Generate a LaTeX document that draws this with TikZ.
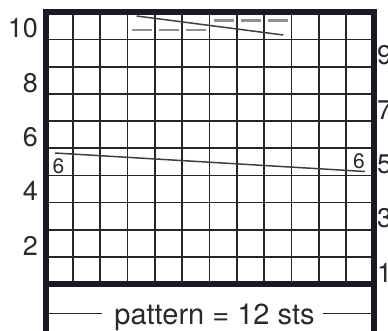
\documentclass[tikz,border=0pt]{standalone}
\usepackage{fontspec}
\setmainfont{TeX Gyre Heros}
\definecolor{framec}{HTML}{1B1A24}
\definecolor{gridc}{HTML}{262626}
\definecolor{dashc}{HTML}{8C9192}
\definecolor{textc}{HTML}{2A2A2A}
\tikzset{
  gridline/.style={draw=gridc, line width=1.6pt},
  frameline/.style={draw=framec, line width=6pt, line join=miter},
  slant/.style={draw=textc!90, line width=1.5pt},
  dashmark/.style={draw=dashc, line width=2.6pt},
  rowlbl/.style={inner sep=0pt, text=textc, font=\fontsize{27}{30}\selectfont},
  smalllbl/.style={inner sep=0pt, text=textc, font=\fontsize{21}{24}\selectfont},
  pattlbl/.style={inner sep=0pt, text=textc, font=\fontsize{29}{32}\selectfont},
}
\begin{document}
\begin{tikzpicture}[x=1pt,y=-1pt]
\useasboundingbox[fill=white] (0,0) rectangle (388,331);
\def\cw{27.333}
\def\rh{27.15}
% thin grid
\foreach \k in {1,...,11}
  \draw[gridline] ({45.5+\k*\cw},12.5) -- ({45.5+\k*\cw},284);
\foreach \j in {1,...,9}
  \draw[gridline] (45.5,{12.5+\j*\rh}) -- (373.5,{12.5+\j*\rh});
% frame
\draw[frameline] (45.5,331) -- (45.5,12.5) -- (373.5,12.5) -- (373.5,331);
\draw[frameline, line cap=butt] (45.5,284) -- (373.5,284);
% dashes in top row
\foreach \k in {3,4,5}
  \draw[dashmark] ({45.5+\k*\cw+4},30) -- ({45.5+\k*\cw+24},30);
\foreach \k in {6,7,8}
  \draw[dashmark] ({45.5+\k*\cw+4},20.7) -- ({45.5+\k*\cw+24},20.7);
% slanted lines
\coordinate (t1) at (136.7,16);
\coordinate (t2) at (283.3,35);
\draw[slant] (t1) -- (t2);
\coordinate (m1) at (55,153);
\coordinate (m2) at (365,171.5);
\draw[slant] (m1) -- (m2);
\node[smalllbl, anchor=base west] (sixL) at (52.5,173.3) {6};
\node[smalllbl, anchor=base east] (sixR) at (365,168.3) {6};
% row numbers
\foreach \r in {2,4,6,8,10}
  \node[rowlbl, anchor=base east] (L\r) at (38,{284-\rh*(\r-1)-1.8}) {\r};
\foreach \r in {1,3,5,7,9}
  \node[rowlbl, anchor=base west] (R\r) at (377,{284-\rh*(\r-1)-1.8}) {\r};
% pattern label
\node[pattlbl, anchor=base] (patt) at (214.5,324.5) {pattern = 12 sts};
\coordinate (pl1) at (48,313.3);
\coordinate (pl2) at (101.7,313.3);
\coordinate (pr1) at (322.7,313.3);
\coordinate (pr2) at (370.5,313.3);
\draw[gridline, line width=1.5pt] (pl1) -- (pl2);
\draw[gridline, line width=1.5pt] (pr1) -- (pr2);
\end{tikzpicture}
\end{document}
